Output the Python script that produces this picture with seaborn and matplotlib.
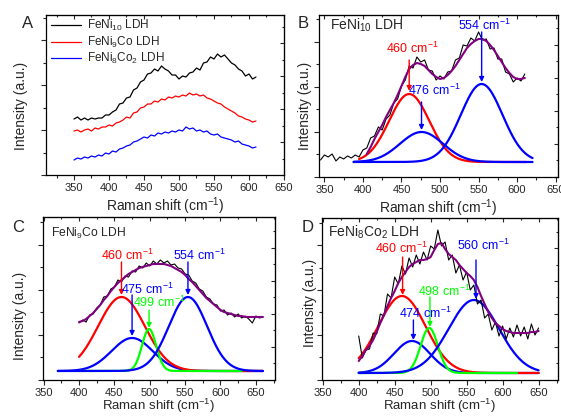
import matplotlib
matplotlib.use("Agg")
import matplotlib.pyplot as plt
from matplotlib.ticker import MultipleLocator
import seaborn as sns
import numpy as np

sns.set_style("ticks")
plt.rcParams["font.family"] = ["Liberation Sans", "DejaVu Sans"]
plt.rcParams["mathtext.default"] = "regular"

# ---- panel A: raw spectra (intensity in arbitrary units) ----
shift_a = list(range(350, 611, 5))
a_feni10 = [56, 58, 55, 57, 55, 57, 56, 57, 57, 60, 60, 63, 65, 71, 72, 77, 78, 85,
            87, 93, 95, 101, 102, 106, 104, 109, 106, 104, 100, 100, 96, 99, 98, 102,
            103, 107, 105, 112, 113, 118, 116, 121, 118, 120, 116, 112, 110, 106, 104,
            99, 101, 96, 98]
a_feni9co = [44, 45, 43, 45, 46, 44, 47, 46, 48, 48, 50, 49, 52, 53, 55, 58, 57, 62,
             63, 67, 68, 71, 71, 74, 73, 76, 75, 78, 77, 79, 78, 80, 79, 82, 80, 81,
             79, 80, 77, 76, 74, 72, 71, 68, 66, 64, 62, 59, 58, 56, 55, 53, 54]
a_feni8co2 = [15, 17, 16, 18, 17, 19, 18, 20, 19, 22, 21, 24, 23, 26, 27, 29, 30, 33,
              34, 36, 38, 37, 40, 39, 42, 41, 43, 42, 44, 43, 45, 44, 48, 46, 47, 44,
              45, 43, 44, 41, 40, 41, 38, 37, 36, 35, 33, 34, 31, 30, 29, 27, 28]

# ---- panel B: FeNi10 LDH ----
shift_b = list(range(345, 611, 5))
b_raw = [17, 22, 20, 23, 16, 20, 18, 21, 19, 22, 20, 27, 29, 39, 41, 50, 47, 58, 62,
         74, 78, 91, 97, 111, 109, 120, 115, 117, 107, 106, 97, 101, 98, 105, 106, 117,
         119, 132, 131, 139, 136, 145, 137, 138, 128, 129, 118, 118, 105, 103, 95, 99,
         96, 103]
shift_b_fit = list(range(405, 611, 5))
b_fit = [23, 30, 38, 45, 52, 60, 67, 74, 82, 91, 100, 108, 112, 114, 113, 111, 107,
         103, 100, 98, 99, 102, 106, 111, 117, 123, 129, 133, 136, 138, 138, 136, 132,
         127, 121, 115, 109, 104, 100, 98, 98, 99]
b_centers = [460, 476, 554]
b_heights = [68, 30, 78]
b_sigmas = [26, 28, 27]
b_starts = [395, 388, 388]
b_ends = [612, 620, 620]
b_base = 15

# ---- panel C: FeNi9Co LDH ----
shift_c = list(range(400, 661, 5))
c_raw = [57, 60, 58, 65, 66, 72, 75, 83, 84, 91, 93, 100, 98, 104, 103, 109, 108, 114,
         112, 117, 114, 119, 116, 120, 117, 119, 115, 116, 112, 111, 106, 105, 99, 97,
         91, 89, 83, 81, 76, 75, 69, 70, 65, 67, 63, 66, 62, 64, 61, 57, 64, 62, 63]
c_fit = [58, 59, 61, 64, 67, 71, 75, 80, 84, 89, 93, 97, 100, 103, 106, 108, 110, 112,
         113, 114, 115, 116, 116, 116, 116, 115, 114, 112, 110, 108, 105, 101, 98, 94,
         90, 86, 82, 79, 76, 73, 70, 68, 67, 66, 65, 64, 64, 63, 63, 63, 63, 63, 63]
c_centers = [475, 460, 499, 554]
c_heights = [33, 74, 42, 74]
c_sigmas = [29, 33, 10, 27]
c_starts = [370, 400, 400, 370]
c_ends = [660, 660, 630, 660]
c_colors = ["#0000ff", "#ff0000", "#00ff00", "#0000ff"]
c_base = 9

# ---- panel D: FeNi8Co2 LDH ----
shift_d = list(range(400, 651, 5))
d_raw = [44, 22, 30, 31, 47, 46, 66, 64, 86, 82, 103, 96, 114, 106, 122, 113, 125, 116,
         128, 120, 134, 131, 150, 134, 138, 120, 125, 107, 115, 100, 108, 90, 95, 76,
         80, 62, 66, 50, 58, 44, 54, 41, 52, 43, 55, 44, 53, 41, 56, 45, 52]
d_fit = [19, 24, 30, 34, 40, 48, 57, 65, 74, 82, 89, 97, 103, 108, 113, 116, 118, 120,
         120, 121, 123, 130, 136, 137, 131, 126, 123, 120, 115, 111, 107, 104, 100, 93,
         84, 76, 68, 62, 57, 54, 51, 49, 48, 47, 47, 47, 47, 47, 48, 48, 49]
d_centers = [474, 460, 498, 560]
d_heights = [32, 77, 45, 73]
d_sigmas = [25, 33, 12, 35]
d_starts = [400, 400, 400, 400]
d_ends = [650, 650, 620, 650]
d_colors = ["#0000ff", "#ff0000", "#00ff00", "#0000ff"]
d_base = 7

RED, BLUE, GREEN, PURPLE = "#ff0000", "#0000ff", "#00ff00", "#800080"
CM = " cm$^{-1}$"


def peak(center, height, sigma, start, end, base):
    x = np.arange(start, end + 1, 1.0)
    return x, base + height * np.exp(-(x - center) ** 2 / (2 * sigma ** 2))


def style(ax, xlim, ylim, ylab_y, xlab_y, ylab_x, xlab_size=10):
    ax.set_xlim(*xlim)
    ax.set_ylim(*ylim)
    ax.xaxis.set_major_locator(MultipleLocator(50))
    ax.xaxis.set_minor_locator(MultipleLocator(25))
    ax.yaxis.set_major_locator(MultipleLocator(45))
    ax.yaxis.set_minor_locator(MultipleLocator(22.5))
    ax.tick_params(which="both", direction="out", labelsize=8, width=0.8,
                   pad=2, labelleft=False)
    ax.tick_params(which="major", length=3.5)
    ax.tick_params(which="minor", length=2)
    for s in ax.spines.values():
        s.set_visible(True)
        s.set_linewidth(0.9)
        s.set_color("black")
    top = ax.secondary_xaxis("top")
    top.xaxis.set_major_locator(MultipleLocator(50))
    top.xaxis.set_minor_locator(MultipleLocator(25))
    top.tick_params(which="both", direction="in", labeltop=False, width=0.8)
    top.tick_params(which="major", length=3)
    top.tick_params(which="minor", length=1.5)
    right = ax.secondary_yaxis("right")
    right.yaxis.set_major_locator(MultipleLocator(33))
    right.yaxis.set_minor_locator(MultipleLocator(16.5))
    right.tick_params(which="both", direction="in", labelright=False, width=0.8)
    right.tick_params(which="major", length=3)
    right.tick_params(which="minor", length=1.5)
    ax.set_xlabel("Raman shift (cm$^{-1}$)", fontsize=xlab_size)
    ax.set_ylabel("Intensity (a.u.)", fontsize=10)
    ax.xaxis.set_label_coords(0.5, xlab_y)
    ax.yaxis.set_label_coords(ylab_x, ylab_y)


def mark(ax, text, tx, ty, x, y0, y1, color):
    ax.text(tx, ty, text, color=color, ha="center", va="center", fontsize=9)
    ax.annotate("", xy=(x, y1), xytext=(x, y0),
                arrowprops=dict(arrowstyle="-|>", color=color, lw=1,
                                mutation_scale=7, shrinkA=0, shrinkB=0))


def line(ax, x, y, color, lw, label=None):
    sns.lineplot(x=x, y=y, ax=ax, color=color, lw=lw, estimator=None,
                 sort=False, label=label, legend=False)


fig = plt.figure(figsize=(5.61, 4.19), dpi=100)
ax_a = fig.add_axes([0.0820, 0.5823, 0.4242, 0.3819])
ax_b = fig.add_axes([0.5686, 0.5776, 0.4260, 0.3866])
ax_c = fig.add_axes([0.0766, 0.0931, 0.4135, 0.3890])
ax_d = fig.add_axes([0.5740, 0.0931, 0.4207, 0.3866])

# A
line(ax_a, shift_a, a_feni10, "black", 0.9, "FeNi$_{10}$ LDH")
line(ax_a, shift_a, a_feni9co, RED, 0.9, "FeNi$_{9}$Co LDH")
line(ax_a, shift_a, a_feni8co2, BLUE, 0.9, "FeNi$_{8}$Co$_{2}$ LDH")
style(ax_a, (310, 650), (0, 160), 0.43, -0.13, -0.075)
ax_a.legend(loc="upper left", frameon=False, fontsize=8.5, handlelength=2.6,
            handletextpad=0.5, labelspacing=0.12, borderaxespad=0.0,
            borderpad=0.2, bbox_to_anchor=(0.01, 0.995))

# B
line(ax_b, shift_b, b_raw, "black", 0.8)
for c, h, s, x0, x1, col in zip(b_centers, b_heights, b_sigmas, b_starts, b_ends,
                                [RED, BLUE, BLUE]):
    x, y = peak(c, h, s, x0, x1, b_base)
    line(ax_b, x, y, col, 1.6)
line(ax_b, shift_b_fit, b_fit, PURPLE, 1.5)
style(ax_b, (343, 653), (0, 162), 0.44, -0.125, -0.03)
ax_b.text(357, 152, "FeNi$_{10}$ LDH", fontsize=10, va="center")
mark(ax_b, "460" + CM, 464, 129, 460, 117, 86, RED)
mark(ax_b, "476" + CM, 493, 87, 476, 75, 47, BLUE)
mark(ax_b, "554" + CM, 558, 152, 554, 145, 95, BLUE)

# C
for c, h, s, x0, x1, col in zip(c_centers, c_heights, c_sigmas, c_starts, c_ends,
                                c_colors):
    x, y = peak(c, h, s, x0, x1, c_base)
    line(ax_c, x, y, col, 1.6)
line(ax_c, shift_c, c_raw, "black", 0.8)
line(ax_c, shift_c, c_fit, PURPLE, 1.5)
style(ax_c, (349, 677), (0, 163), 0.39, -0.105, -0.07, 9.5)
ax_c.text(360, 147, "FeNi$_{9}$Co LDH", fontsize=8.7, va="center")
mark(ax_c, "460" + CM, 468, 125, 460, 118, 85, RED)
mark(ax_c, "475" + CM, 497, 91, 475, 85, 44, BLUE)
mark(ax_c, "499" + CM, 514, 78, 499, 70, 52, GREEN)
mark(ax_c, "554" + CM, 570, 125, 554, 118, 85, BLUE)

# D
for c, h, s, x0, x1, col in zip(d_centers, d_heights, d_sigmas, d_starts, d_ends,
                                d_colors):
    x, y = peak(c, h, s, x0, x1, d_base)
    line(ax_d, x, y, col, 1.6)
line(ax_d, shift_d, d_raw, "black", 0.8)
line(ax_d, shift_d, d_fit, PURPLE, 1.5)
style(ax_d, (349, 677), (0, 162), 0.475, -0.105, -0.02, 9.5)
ax_d.text(358, 148, "FeNi$_{8}$Co$_{2}$ LDH", fontsize=10, va="center")
mark(ax_d, "460" + CM, 459, 132, 461, 123, 85, RED)
mark(ax_d, "498" + CM, 519, 89, 499, 83, 53, GREEN)
mark(ax_d, "474" + CM, 493, 67, 476, 60, 40, BLUE)
mark(ax_d, "560" + CM, 573, 135, 563, 120, 81, BLUE)

for lab, px, py in [("A", 28, 23), ("B", 303, 23), ("C", 18, 227), ("D", 308, 227)]:
    fig.text(px / 561, 1 - py / 419, lab, fontsize=12, ha="center", va="center")

fig.savefig("out.png", dpi=100)
